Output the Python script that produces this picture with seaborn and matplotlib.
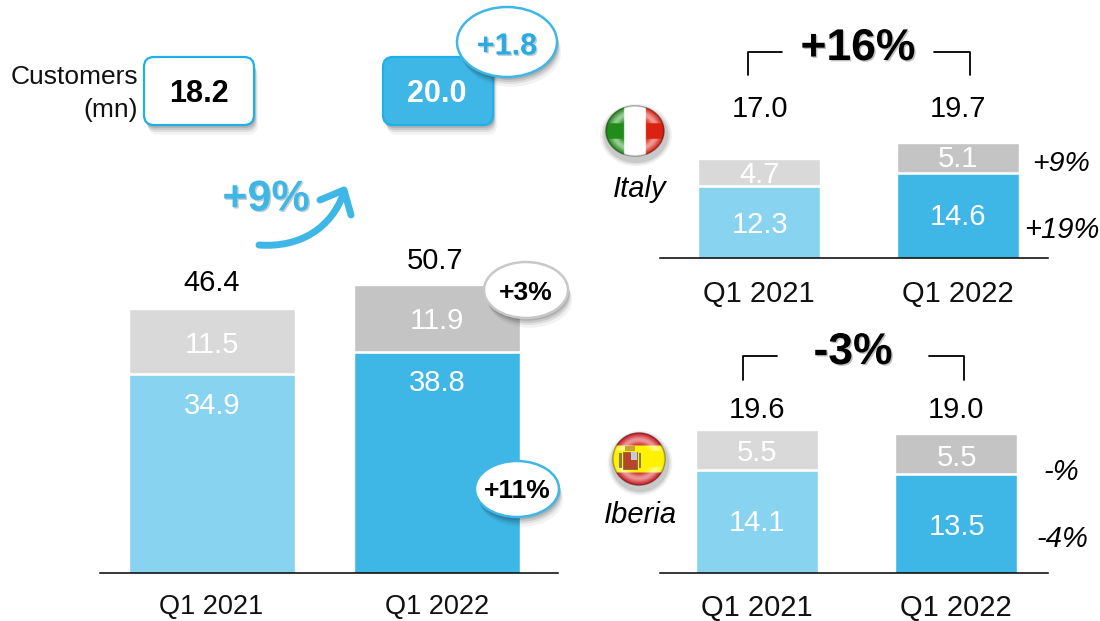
import numpy as np
import seaborn as sns
import matplotlib.pyplot as plt
import matplotlib.patheffects as pe
from matplotlib.patches import Ellipse, FancyBboxPatch, PathPatch, Rectangle
from matplotlib.path import Path

quarters = ['Q1 2021', 'Q1 2022']

group_totals = [46.4, 50.7]
group_grey = [11.5, 11.9]
group_blue = [34.9, 38.8]
customers = [18.2, 20.0]

italy_totals = [17.0, 19.7]
italy_grey = [4.7, 5.1]
italy_blue = [12.3, 14.6]

iberia_totals = [19.6, 19.0]
iberia_grey = [5.5, 5.5]
iberia_blue = [14.1, 13.5]

BLUE_L = '#87d3f0'
BLUE = '#3fb7e6'
GREY_L = '#d9d9d9'
GREY = '#c4c4c4'
BORDER = '#1fb0e8'

W, H = 1100, 621

sns.set_theme(style='white')
plt.rcParams['font.family'] = ['Liberation Sans', 'DejaVu Sans']

fig = plt.figure(figsize=(W / 100, H / 100), dpi=100)
fig.patch.set_facecolor('white')


def panel(x0, x1, base, c0, c1, bar_w, scale, totals, blue, tick_size, pad):
    # one stacked pair, axes placed in reference pixels
    top = base - 60 * scale
    if top < 0:
        top = 0
    ax = fig.add_axes([x0 / W, 1 - base / H, (x1 - x0) / W, (base - top) / H])
    ax.patch.set_alpha(0)
    step = c1 - c0
    sns.barplot(x=quarters, y=totals, hue=quarters, palette=[GREY_L, GREY], legend=False,
                width=bar_w / step, saturation=1, ax=ax)
    sns.barplot(x=quarters, y=blue, hue=quarters, palette=[BLUE_L, BLUE], legend=False,
                width=bar_w / step, saturation=1, ax=ax)
    ax.hlines(blue, [-0.45, 0.55], [0.45, 1.45], color='white', lw=1.8, zorder=4)
    ax.set_xlim((x0 - c0) / step, (x1 - c0) / step)
    ax.set_ylim(0, (base - top) / scale)
    ax.set(xlabel=None, ylabel=None, yticks=[])
    ax.tick_params(axis='x', length=0, pad=pad, labelsize=tick_size, labelcolor='#111111')
    sns.despine(ax=ax, left=True)
    ax.spines['bottom'].set_color('black')
    ax.spines['bottom'].set_linewidth(1.1)
    return ax


panel(100, 558, 573, 211.5, 437, 166, 5.69, group_totals, group_blue, 19.5, 15)
panel(660, 1048, 258, 759.2, 957.8, 122.5, 5.84, italy_totals, italy_blue, 21, 16)
panel(660, 1048, 573, 757.2, 955.8, 122.5, 7.32, iberia_totals, iberia_blue, 21, 15)

# overlay in reference pixels for call-outs and labels
ov = fig.add_axes([0, 0, 1, 1], zorder=5)
ov.patch.set_alpha(0)
ov.axis('off')


def txt(x, y, s, size=21, color='black', weight='normal', style='normal', ha='center', shadow=False):
    t = ov.text(x, y - 1, s, fontsize=size, color=color, fontweight=weight, fontstyle=style,
                ha=ha, va='center_baseline')
    if shadow:
        t.set_path_effects([pe.SimplePatchShadow(offset=(1, -1), alpha=0.25), pe.Normal()])
    return t


soft = [pe.SimplePatchShadow(offset=(3, -7), alpha=0.05, shadow_rgbFace='black'),
        pe.SimplePatchShadow(offset=(2, -5), alpha=0.08, shadow_rgbFace='black'),
        pe.SimplePatchShadow(offset=(1.5, -3.5), alpha=0.10, shadow_rgbFace='black'),
        pe.SimplePatchShadow(offset=(1, -2), alpha=0.12, shadow_rgbFace='black'),
        pe.Normal()]


def box(x0, y0, x1, y1, face):
    p = FancyBboxPatch((x0 + 10, y0 + 10), x1 - x0 - 20, y1 - y0 - 20,
                       boxstyle='round,pad=10,rounding_size=10', fc=face, ec=BORDER, lw=1.6,
                       mutation_aspect=1)
    p.set_path_effects(soft)
    ov.add_patch(p)


def bubble(cx, cy, w, h, edge):
    e = Ellipse((cx, cy), w, h, fc='white', ec=edge, lw=1.8)
    e.set_path_effects(soft)
    ov.add_patch(e)


# customers row
txt(138, 75, 'Customers', 19, ha='right', color='#111111')
txt(138, 108, '(mn)', 19, ha='right', color='#111111')
box(144, 57, 254, 125, 'white')
box(383, 57, 493, 125, BLUE)
txt(199, 92, f'{customers[0]:.1f}', 22, weight='bold')
txt(437, 92, f'{customers[1]:.1f}', 22, weight='bold', color='white')
bubble(507, 42, 100, 70, BLUE)
txt(507, 44, '+1.8', 22, weight='bold', color='#29abe2', shadow=True)

# growth arrow
txt(266, 196, '+9%', 31, weight='bold', color=BLUE, shadow=True)
curve = Path([(259, 245), (300, 248), (332, 228), (344, 192)],
             [Path.MOVETO, Path.CURVE4, Path.CURVE4, Path.CURVE4])
ov.add_patch(PathPatch(curve, fc='none', ec=BLUE, lw=5, capstyle='round'))
ov.plot([320, 344, 351], [200, 190, 215], color=BLUE, lw=5, solid_capstyle='round', solid_joinstyle='round')

# group labels
txt(212, 281, f'{group_totals[0]:.1f}')
txt(435, 259, f'{group_totals[1]:.1f}')
txt(212, 343, f'{group_grey[0]:.1f}', color='white')
txt(212, 404, f'{group_blue[0]:.1f}', color='white')
txt(437, 319, f'{group_grey[1]:.1f}', color='white')
txt(437, 381, f'{group_blue[1]:.1f}', color='white')
bubble(526, 290, 84, 56, '#c8c8c8')
txt(526, 291, '+3%', 19, weight='bold')
bubble(517, 489, 84, 56, BLUE)
txt(517, 490, '+11%', 19, weight='bold')

# Italy labels
txt(760, 107, f'{italy_totals[0]:.1f}')
txt(958, 107, f'{italy_totals[1]:.1f}')
txt(760, 173, f'{italy_grey[0]:.1f}', color='white')
txt(760, 223, f'{italy_blue[0]:.1f}', color='white')
txt(958, 157, f'{italy_grey[1]:.1f}', color='white')
txt(958, 215, f'{italy_blue[1]:.1f}', color='white')
txt(1061, 162, '+9%', 20.5, style='italic')
txt(1062, 228, '+19%', 21, style='italic')
txt(640, 187, 'Italy', 21, style='italic')
txt(858, 45, '+16%', 32, weight='bold', shadow=True)
ov.plot([748, 748, 782], [75, 52, 52], color='black', lw=1.3)
ov.plot([934, 970, 970], [52, 52, 75], color='black', lw=1.3)

# Iberia labels
txt(757, 408, f'{iberia_totals[0]:.1f}')
txt(956, 408, f'{iberia_totals[1]:.1f}')
txt(757, 451, f'{iberia_grey[0]:.1f}', color='white')
txt(757, 521, f'{iberia_blue[0]:.1f}', color='white')
txt(957, 456, f'{iberia_grey[1]:.1f}', color='white')
txt(957, 525, f'{iberia_blue[1]:.1f}', color='white')
txt(1061, 470, '-%', 21, style='italic')
txt(1062, 537, '-4%', 21, style='italic')
txt(640, 513, 'Iberia', 21, style='italic')
txt(853, 349, '-3%', 32, weight='bold', shadow=True)
ov.plot([743, 743, 777], [380, 356, 356], color='black', lw=1.3)
ov.plot([929, 964, 964], [356, 356, 380], color='black', lw=1.3)


def flag(cx, cy, rx, ry, kind):
    # glossy round flag icon
    n = 160
    yy, xx = np.mgrid[-1:1:n * 1j, -1:1:n * 1j]
    r = np.sqrt(xx ** 2 + yy ** 2)
    img = np.ones((n, n, 4))
    if kind == 'it':
        img[xx < -0.36, :3] = (0.13, 0.55, 0.1)
        img[xx > 0.36, :3] = (0.86, 0.13, 0.07)
    else:
        img[..., :3] = (1.0, 0.95, 0.0)
        img[np.abs(yy) > 0.5, :3] = (0.80, 0.10, 0.12)
    gloss = 0.55 * np.exp(-((r - 0.72) / 0.16) ** 2) * (np.abs(yy) > 0.3)
    img[..., :3] = img[..., :3] * (1 - gloss[..., None]) + gloss[..., None]
    rim = np.clip((r - 0.93) / 0.07, 0, 1)[..., None]
    img[..., :3] = img[..., :3] * (1 - 0.7 * rim)
    img[..., 3] = np.clip((1 - r) * 40, 0, 1)
    for k, a in ((1.2, 0.05), (1.14, 0.07), (1.08, 0.10)):
        ov.add_patch(Ellipse((cx + 1, cy + 4), 2 * rx * k, 2 * ry * k, fc='black', ec='none', alpha=a))
    ov.imshow(img, extent=(cx - rx, cx + rx, cy + ry, cy - ry), aspect='auto',
              interpolation='bilinear', zorder=3)


flag(635, 131, 30, 26, 'it')
flag(639, 459, 27, 27, 'es')
ov.add_patch(Rectangle((623, 452), 14, 17, fc='#b5462a', ec='#8a6d3b', lw=0.6, zorder=4))
ov.add_patch(Rectangle((631, 452), 6, 8, fc='#c9c9d6', ec='none', zorder=4))
ov.add_patch(Rectangle((619, 453), 2.5, 15, fc='#8a7a55', ec='none', zorder=4))
ov.add_patch(Rectangle((638.5, 453), 2.5, 15, fc='#8a7a55', ec='none', zorder=4))
ov.add_patch(Rectangle((625, 446), 10, 5, fc='#c8a03c', ec='none', zorder=4))

ov.set_xlim(0, W)
ov.set_ylim(H, 0)

fig.savefig('out.png', dpi=100)
